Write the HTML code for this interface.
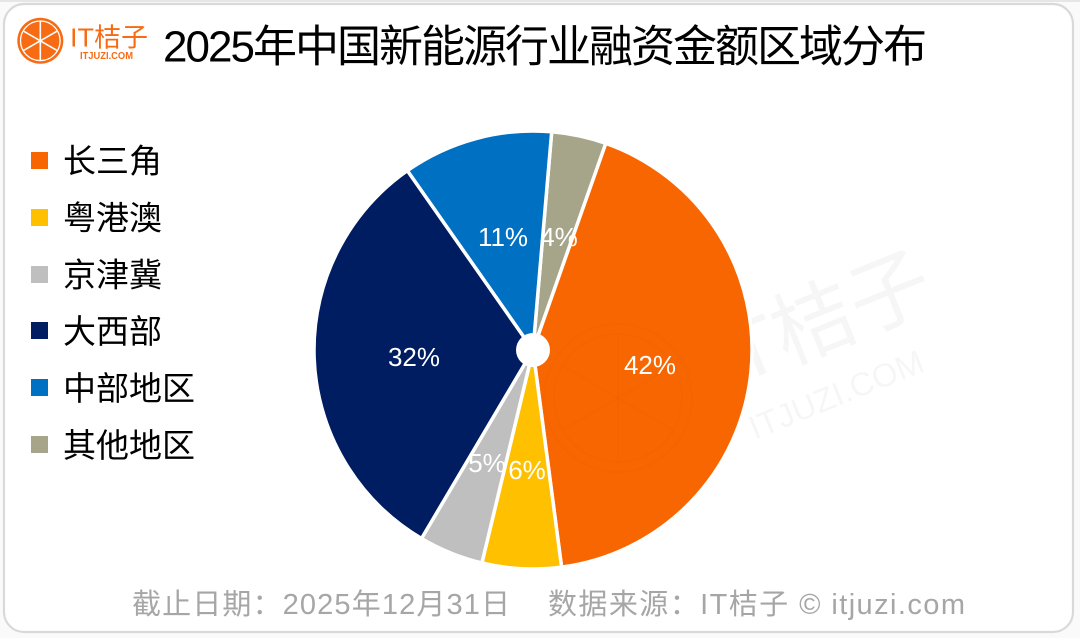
<!DOCTYPE html>
<html>
<head>
<meta charset="utf-8">
<style>
  html,body{margin:0;padding:0;background:#ffffff;}
  body{width:1080px;height:638px;overflow:hidden;position:relative;}
  svg{display:block;}
  text{font-family:"Liberation Sans","Noto Sans CJK SC",sans-serif;}
</style>
</head>
<body>
<svg width="1080" height="638" viewBox="0 0 1080 638" xmlns="http://www.w3.org/2000/svg">
  <rect x="0" y="0" width="1080" height="638" fill="#fafafa"/>
  <line x1="0" y1="1" x2="1080" y2="1" stroke="#e6e6e6" stroke-width="2"/>
  <rect x="4" y="4" width="1069" height="628" rx="20" ry="20" fill="#ffffff" stroke="#d9d9d9" stroke-width="2.2"/>

  <!-- logo -->
  <g>
    <circle cx="40.3" cy="40.8" r="23" fill="#f76b15"/>
    <circle cx="40.3" cy="40.8" r="19.8" fill="none" stroke="#ffffff" stroke-width="1.3"/>
    <g stroke="#ffffff" stroke-width="1.6">
      <line x1="40.3" y1="21.5" x2="40.3" y2="60.1"/>
      <line x1="23.6" y1="31.2" x2="57" y2="50.4"/>
      <line x1="23.6" y1="50.4" x2="57" y2="31.2"/>
    </g>
    <text x="70" y="46.5" font-size="26" fill="#f76b15" textLength="78" lengthAdjust="spacingAndGlyphs">IT桔子</text>
    <text x="80" y="59" font-size="10.5" font-weight="bold" fill="#f76b15" textLength="53" lengthAdjust="spacingAndGlyphs">ITJUZI.COM</text>
  </g>

  <!-- title -->
  <text x="163" y="61.5" font-size="44" fill="#000000" textLength="764" lengthAdjust="spacing">2025年中国新能源行业融资金额区域分布</text>

  <!-- watermark background -->
  <g fill="#000000" fill-opacity="0.035">
    <text transform="translate(818,322) rotate(-22)" text-anchor="middle" y="28" font-size="82">IT桔子</text>
    <text transform="translate(836,394) rotate(-22)" text-anchor="middle" y="12" font-size="33">ITJUZI.COM</text>
  </g>

  <!-- pie -->
  <g stroke="#ffffff" stroke-width="3.5" stroke-linejoin="round">
    <path d="M533,350 L551.7,131.8 A219,219 0 0 1 605.8,143.4 Z" fill="#A6A58A"/>
    <path d="M533,350 L605.8,143.4 A219,219 0 0 1 561.6,567.1 Z" fill="#F76600"/>
    <path d="M533,350 L561.6,567.1 A219,219 0 0 1 481.9,563.0 Z" fill="#FFC000"/>
    <path d="M533,350 L481.9,563.0 A219,219 0 0 1 421.5,538.5 Z" fill="#BFBFBF"/>
    <path d="M533,350 L421.5,538.5 A219,219 0 0 1 407.4,170.6 Z" fill="#001D62"/>
    <path d="M533,350 L407.4,170.6 A219,219 0 0 1 551.7,131.8 Z" fill="#0070C2"/>
  </g>

  <!-- faint watermark logo over pie -->
  <g fill="none" stroke="#b04000" stroke-opacity="0.04" stroke-width="2">
    <circle cx="618" cy="398" r="74"/>
    <circle cx="618" cy="398" r="64"/>
    <line x1="618" y1="334" x2="618" y2="462"/>
    <line x1="563" y1="366" x2="673" y2="430"/>
    <line x1="563" y1="430" x2="673" y2="366"/>
  </g>

  <circle cx="533" cy="350" r="17" fill="#ffffff"/>

  <!-- data labels -->
  <g fill="#ffffff" font-size="26" text-anchor="middle">
    <text x="503" y="246">11%</text>
    <text x="559" y="246">4%</text>
    <text x="650" y="374">42%</text>
    <text x="414" y="366">32%</text>
    <text x="487" y="472">5%</text>
    <text x="527" y="479">6%</text>
  </g>

  <!-- legend -->
  <g>
    <rect x="31" y="152" width="17" height="17" fill="#F76600"/>
    <rect x="31" y="209" width="17" height="17" fill="#FFC000"/>
    <rect x="31" y="266" width="17" height="17" fill="#BFBFBF"/>
    <rect x="31" y="322" width="17" height="17" fill="#001D62"/>
    <rect x="31" y="379" width="17" height="17" fill="#0070C2"/>
    <rect x="31" y="436" width="17" height="17" fill="#A6A58A"/>
  </g>
  <g fill="#000000" font-size="33">
    <text x="63" y="172.5">长三角</text>
    <text x="63" y="229.5">粤港澳</text>
    <text x="63" y="286.5">京津冀</text>
    <text x="63" y="343">大西部</text>
    <text x="63" y="400">中部地区</text>
    <text x="63" y="457">其他地区</text>
  </g>

  <!-- footer -->
  <g fill="#a6a6a6" font-size="29">
    <text x="132" y="614" textLength="378" lengthAdjust="spacing">截止日期：2025年12月31日</text>
    <text x="548" y="614" textLength="417" lengthAdjust="spacing">数据来源：IT桔子 © itjuzi.com</text>
  </g>
</svg>
</body>
</html>
